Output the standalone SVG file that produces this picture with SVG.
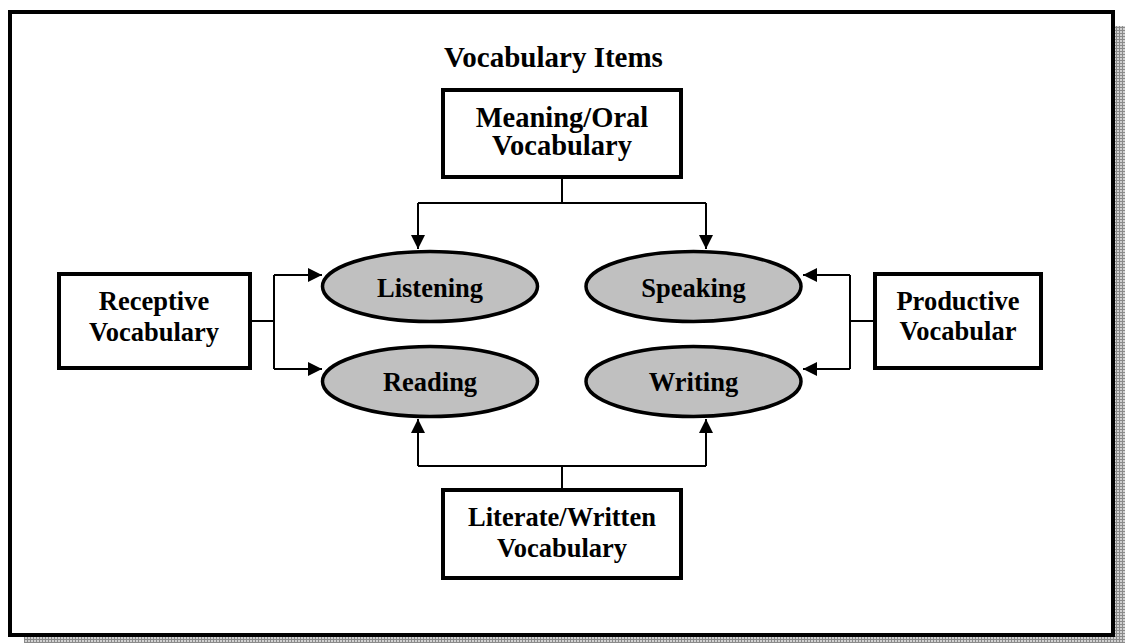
<svg xmlns="http://www.w3.org/2000/svg" width="1125" height="643" viewBox="0 0 1125 643">
<style>
text{font-family:"Liberation Serif","Times New Roman",serif;font-weight:bold;fill:#000;text-anchor:middle}
.box{fill:#fff;stroke:#000;stroke-width:4}
.ell{fill:#c0c0c0;stroke:#000;stroke-width:3.5}
.conn{fill:none;stroke:#000;stroke-width:2}
.t26{font-size:26.5px}
.t28{font-size:28.5px}
</style>
<defs>
<pattern id="shade" width="3" height="3" patternUnits="userSpaceOnUse">
<rect width="3" height="3" fill="#d0d0d0"/>
<rect width="1" height="3" fill="#8a8a8a"/>
<rect width="3" height="1" fill="#8a8a8a"/>
</pattern>
<marker id="arr" viewBox="0 0 14 14" refX="14" refY="7" markerWidth="14" markerHeight="14" markerUnits="userSpaceOnUse" orient="auto">
<path d="M0,0 L14,7 L0,14 Z" fill="#000"/>
</marker>
</defs>
<rect width="1125" height="643" fill="#fff"/>
<g id="frame">
<rect x="1115" y="26" width="10" height="617" fill="url(#shade)"/>
<rect x="24" y="637" width="1101" height="6" fill="url(#shade)"/>
<rect x="10" y="12" width="1103" height="623" fill="#fff" stroke="#000" stroke-width="4"/>
</g>
<text x="553.5" y="67" style="font-size:29px">Vocabulary Items</text>
<g id="connectors">
<path class="conn" d="M562,179 V203 M418,203 H706"/>
<path class="conn" d="M418,203 V249" marker-end="url(#arr)"/>
<path class="conn" d="M706,203 V249" marker-end="url(#arr)"/>
<path class="conn" d="M562,488 V466 M418,466 H706"/>
<path class="conn" d="M418,466 V419" marker-end="url(#arr)"/>
<path class="conn" d="M706,466 V419" marker-end="url(#arr)"/>
<path class="conn" d="M252,321 H274 M274,275 V369"/>
<path class="conn" d="M274,275 H322" marker-end="url(#arr)"/>
<path class="conn" d="M274,369 H322" marker-end="url(#arr)"/>
<path class="conn" d="M873,321 H850 M850,275 V369"/>
<path class="conn" d="M850,275 H803" marker-end="url(#arr)"/>
<path class="conn" d="M850,369 H803" marker-end="url(#arr)"/>
</g>
<g id="meaning-oral">
<rect class="box" x="443" y="90" width="238" height="87"/>
<text class="t28" x="562" y="127">Meaning/Oral</text>
<text class="t28" x="562" y="155">Vocabulary</text>
</g>
<g id="literate-written">
<rect class="box" x="443" y="490" width="238" height="88"/>
<text class="t26" x="562" y="526">Literate/Written</text>
<text class="t26" x="562" y="557">Vocabulary</text>
</g>
<g id="receptive">
<rect class="box" x="59" y="274" width="191" height="94"/>
<text class="t26" x="154" y="310">Receptive</text>
<text class="t26" x="154" y="341">Vocabulary</text>
</g>
<g id="productive">
<rect class="box" x="875" y="274" width="166" height="94"/>
<text class="t26" x="958" y="310">Productive</text>
<text class="t26" x="958" y="340">Vocabular</text>
</g>
<g id="listening">
<ellipse class="ell" cx="430" cy="286.5" rx="107.5" ry="35"/>
<text class="t26" x="430" y="297">Listening</text>
</g>
<g id="speaking">
<ellipse class="ell" cx="693.5" cy="286.5" rx="107.5" ry="35"/>
<text class="t26" x="693.5" y="297">Speaking</text>
</g>
<g id="reading">
<ellipse class="ell" cx="430" cy="381.5" rx="107.5" ry="35"/>
<text class="t26" x="430" y="391">Reading</text>
</g>
<g id="writing">
<ellipse class="ell" cx="693.5" cy="381.5" rx="107.5" ry="35"/>
<text class="t26" x="693.5" y="391">Writing</text>
</g>
</svg>
